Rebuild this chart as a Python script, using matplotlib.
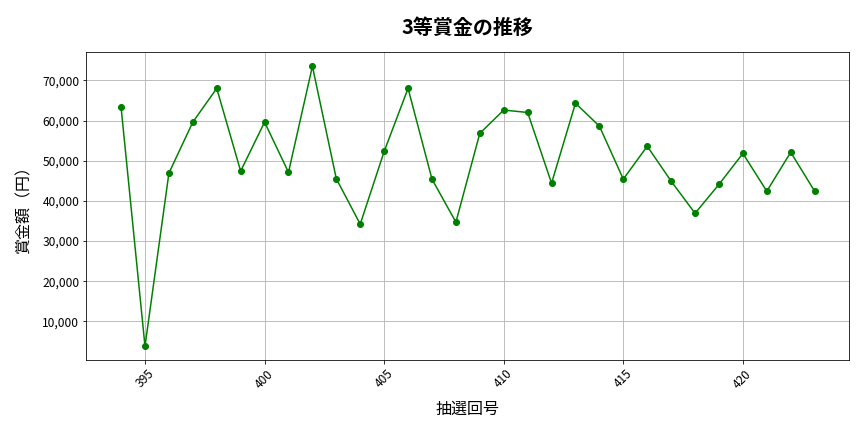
import matplotlib.pyplot as plt
from matplotlib.ticker import FuncFormatter

plt.rcParams['font.family'] = ['Noto Sans CJK JP', 'DejaVu Sans']

# 抽選回と3等賞金
draws = list(range(394, 424))
prizes = [63300, 3800, 46900, 59600, 68000, 47400, 59600, 47100, 73500, 45500,
          34200, 52300, 68000, 45400, 34700, 56800, 62600, 62000, 44400, 64300,
          58600, 45400, 53600, 44900, 36900, 44100, 51800, 42400, 52100, 42400]

fig, ax = plt.subplots(figsize=(12, 6), dpi=72)
ax.plot(draws, prizes, marker='o', color='green', linewidth=1.5, markersize=6)
ax.set_title('3等賞金の推移', fontsize=20, fontweight='bold', pad=18)
ax.set_xlabel('抽選回号', fontsize=16, labelpad=10)
ax.set_ylabel('賞金額（円）', fontsize=16, labelpad=10)
ax.yaxis.set_major_formatter(FuncFormatter(lambda v, p: f'{int(v):,}'))
ax.tick_params(axis='x', rotation=45, labelsize=12)
ax.tick_params(axis='y', labelsize=12)
ax.grid(True, color='#b0b0b0', linewidth=0.8)

plt.subplots_adjust(left=0.1, right=0.983, top=0.879, bottom=0.166)
plt.savefig('out.png', dpi=72)
